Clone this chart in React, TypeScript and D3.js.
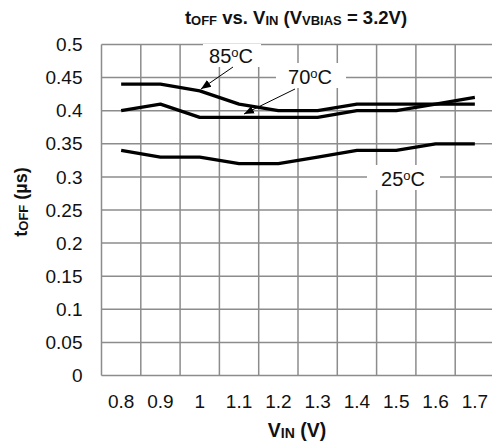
import React from "react";
import * as d3 from "d3";

const categories = ["0.8", "0.9", "1", "1.1", "1.2", "1.3", "1.4", "1.5", "1.6", "1.7"];
const s85 = [0.44, 0.44, 0.43, 0.41, 0.4, 0.4, 0.41, 0.41, 0.41, 0.41];
const s70 = [0.4, 0.41, 0.39, 0.39, 0.39, 0.39, 0.4, 0.4, 0.41, 0.42];
const s25 = [0.34, 0.33, 0.33, 0.32, 0.32, 0.33, 0.34, 0.34, 0.35, 0.35];
const yTicks = [0, 0.05, 0.1, 0.15, 0.2, 0.25, 0.3, 0.35, 0.4, 0.45, 0.5];

const W = 492, H = 447;
const left = 101.5, top = 44.5, bottom = 375.5, right = 101.5 + 39.3 * 10;

export default function App() {
  const x = d3.scaleBand<string>().domain(categories).range([left, right]);
  const y = d3.scaleLinear().domain([0, 0.5]).range([bottom, top]);
  const line = d3.line<number>()
    .x((_, i) => (x(categories[i]) as number) + x.bandwidth() / 2)
    .y((d) => y(d));
  const font = "Liberation Sans, Arial, sans-serif";
  const grid = "#8c8c8c";
  return (
    <svg width={W} height={H} style={{ position: "absolute", left: 0, top: 0, fontFamily: font }}>
      <defs>
        <marker id="ah" viewBox="0 0 10 10" refX="10" refY="5" markerWidth="10" markerHeight="10" orient="auto" markerUnits="userSpaceOnUse">
          <path d="M0,1 L10,5 L0,9 z" fill="#000" />
        </marker>
      </defs>
      <rect width={W} height={H} fill="#fff" />
      {yTicks.map((t) => (
        <line key={"h" + t} x1={left} x2={right} y1={y(t)} y2={y(t)} stroke={grid} strokeWidth={1.5} />
      ))}
      {categories.map((c) => (
        <line key={"v" + c} x1={x(c)} x2={x(c)} y1={top} y2={bottom} stroke={grid} strokeWidth={1.5} />
      ))}
      <line x1={right} x2={right} y1={top} y2={bottom} stroke={grid} strokeWidth={1.5} />
      {yTicks.map((t) => (
        <text key={"yt" + t} x={82.5} y={y(t)} dy="0.35em" textAnchor="end" fontSize={19} fill="#111">
          {String(t)}
        </text>
      ))}
      {categories.map((c) => (
        <text key={"xt" + c} x={(x(c) as number) + x.bandwidth() / 2} y={401} dy="0.35em" textAnchor="middle" fontSize={19} fill="#111">
          {c}
        </text>
      ))}
      {[s85, s70, s25].map((s, i) => (
        <path key={i} d={line(s) || ""} fill="none" stroke="#000" strokeWidth={3.3} strokeLinejoin="round" />
      ))}
      {/* annotation labels */}
      <rect x={203} y={44} width={58} height={23} fill="#fff" />
      <text x={231} y={63} textAnchor="middle" fontSize={20} fill="#111">85<tspan fontSize={13} dy={-6}>o</tspan><tspan dy={6}>C</tspan></text>
      <rect x={276} y={63} width={70} height={25} fill="#fff" />
      <text x={310} y={84} textAnchor="middle" fontSize={20} fill="#111">70<tspan fontSize={13} dy={-6}>o</tspan><tspan dy={6}>C</tspan></text>
      <rect x={367} y={165} width={73} height={25} fill="#fff" />
      <text x={403} y={186} textAnchor="middle" fontSize={20} fill="#111">25<tspan fontSize={13} dy={-6}>o</tspan><tspan dy={6}>C</tspan></text>
      <line x1={233} y1={67} x2={201} y2={89} stroke="#000" strokeWidth={1} markerEnd="url(#ah)" />
      <line x1={295} y1={89} x2={244} y2={114} stroke="#000" strokeWidth={1} markerEnd="url(#ah)" />
      {/* title */}
      <text x={296} y={24} textAnchor="middle" fontSize={18.5} fontWeight="bold" fill="#111">
        t<tspan fontSize={13} dy={1}>OFF</tspan><tspan dy={-1}> vs. V</tspan><tspan fontSize={13} dy={1}>IN</tspan><tspan dy={-1}> (V</tspan><tspan fontSize={13} dy={1}>VBIAS</tspan><tspan dy={-1}> = 3.2V)</tspan>
      </text>
      {/* x axis title */}
      <text x={297} y={437} textAnchor="middle" fontSize={19.5} fontWeight="bold" fill="#111">
        V<tspan fontSize={14} dy={1}>IN</tspan><tspan dy={-1}> (V)</tspan>
      </text>
      {/* y axis title */}
      <text transform={`translate(27,202) rotate(-90)`} textAnchor="middle" fontSize={18} fontWeight="bold" fill="#111">
        t<tspan fontSize={13} dy={1}>OFF</tspan><tspan dy={-1}> (µs)</tspan>
      </text>
    </svg>
  );
}
